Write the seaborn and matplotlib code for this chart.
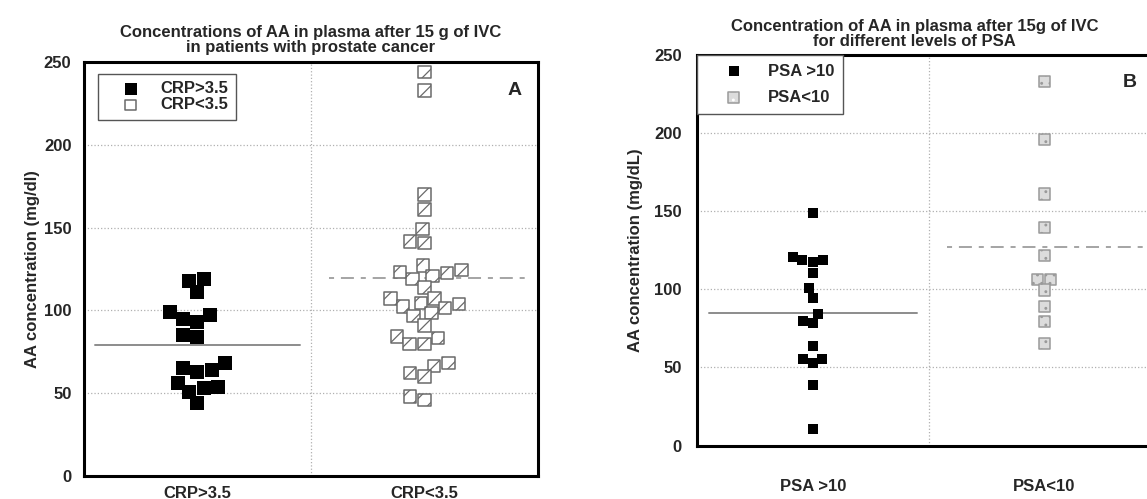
import numpy as np
import pandas as pd
import matplotlib
matplotlib.use('Agg')
import matplotlib.pyplot as plt
import seaborn as sns

# Panel A: AA in plasma by CRP level
crp_groups = ['CRP>3.5', 'CRP<3.5']
crp_high = [118, 119, 111, 97, 95, 99, 93, 85, 84, 68, 64, 63, 65, 54, 56, 51, 53, 44]
crp_low = [243.8, 232.8, 169.9, 160.8, 149.1, 140.7, 141.7, 127.2, 124.5, 122.5,
           118.9, 120.9, 123.3, 113.9, 107.2, 107.2, 103.8, 104.4, 101.4, 102.4,
           98.4, 96.7, 90.9, 84.2, 79.8, 79.8, 83.2, 66.5, 68.1, 60.0, 62.1, 48.0, 46.0]
crp_lines = [78.8, 119.5]

# Panel B: AA in plasma by PSA level
psa_groups = ['PSA >10', 'PSA<10']
psa_high = [148.7, 120.9, 118.8, 110.6, 117.7, 118.8, 100.6, 94.6, 84.0, 79.9,
            78.6, 63.7, 55.3, 52.6, 55.3, 38.7, 10.3]
psa_low = [233.1, 196.2, 161.1, 139.7, 121.5, 106.6, 106.6, 99.6, 88.9, 79.7, 65.4]
psa_lines = [85.0, 126.9]

y_ticks = [0, 50, 100, 150, 200, 250]

sns.set_style('white')
plt.rcParams['font.family'] = ['Liberation Sans', 'DejaVu Sans']
plt.rcParams['font.weight'] = 'bold'
plt.rcParams['hatch.color'] = '#7a7a7a'
plt.rcParams['hatch.linewidth'] = 0.9

TEXT = '#262626'
DASH = (0, (3.3, 4.5, 8.5, 4.5))


def draw_panel(ax, groups, high, low, lines, high_size, low_size, low_style):
    df = pd.DataFrame({
        'group': [groups[0]] * len(high) + [groups[1]] * len(low),
        'value': high + low,
    })
    sns.swarmplot(data=df[df['group'] == groups[0]], x='group', y='value', order=groups,
                  marker='s', size=high_size, color='black', linewidth=0, ax=ax)
    h_black = ax.collections[-1]
    sns.swarmplot(data=df[df['group'] == groups[1]], x='group', y='value', order=groups,
                  marker='s', size=low_size, color=low_style['face'],
                  edgecolor=low_style['edge'], linewidth=1.1, ax=ax)
    h_grey = ax.collections[-1]
    h_grey.set_hatch(low_style['hatch'])

    # group lines
    ax.plot([-0.45, 0.45], [lines[0]] * 2, color='#8c8c8c', lw=1.4, zorder=1)
    ax.plot([0.58, 1.46], [lines[1]] * 2, color='#8c8c8c', lw=1.1, ls=DASH, zorder=1)

    ax.set_xlim(-0.5, 1.5)
    ax.set_ylim(0, 250)
    ax.set_yticks(y_ticks)
    ax.grid(axis='y', color='#b0b0b0', ls=':', lw=0.9)
    ax.grid(axis='x', visible=False)
    ax.axvline(0.5, color='#b0b0b0', ls=':', lw=0.9, zorder=0)
    for s in ax.spines.values():
        s.set_linewidth(2.2)
        s.set_color('black')
    ax.set_xlabel('')
    return h_black, h_grey


fig = plt.figure(figsize=(11.47, 4.99), dpi=100)
axA = fig.add_axes([0.0732, 0.0461, 0.3958, 0.8297])
axB = fig.add_axes([0.6077, 0.1072, 0.4037, 0.7820])

# Panel A
hA1, hA2 = draw_panel(axA, crp_groups, crp_high, crp_low, crp_lines, 10, 9,
                      {'face': 'white', 'edge': '#6a6a6a', 'hatch': '//'})
axA.set_title('Concentrations of AA in plasma after 15 g of IVC\nin patients with prostate cancer',
              fontsize=12, fontweight='bold', color=TEXT, pad=7, linespacing=1.0)
axA.set_ylabel('AA concentration (mg/dl)', fontsize=12, fontweight='bold', color=TEXT, labelpad=3)
axA.tick_params(axis='y', length=0, pad=9, labelsize=12, labelcolor=TEXT)
axA.tick_params(axis='x', length=0, pad=7, labelsize=12, labelcolor=TEXT)
axA.legend([hA1, hA2], crp_groups, loc='upper left', bbox_to_anchor=(0.031, 0.971),
           borderaxespad=0, fontsize=12, frameon=True, fancybox=False,
           edgecolor='#555555', framealpha=1, labelspacing=0.05, handletextpad=0.3,
           markerscale=0.85, borderpad=0.45, handlelength=3.0)
axA.text(0.965, 0.93, 'A', transform=axA.transAxes, ha='right', va='center',
         fontsize=14, fontweight='bold', color=TEXT)

# Panel B
hB1, hB2 = draw_panel(axB, psa_groups, psa_high, psa_low, psa_lines, 7.2, 8,
                      {'face': '#dcdcdc', 'edge': '#9a9a9a', 'hatch': '..'})
axB.set_title('Concentration of AA in plasma after 15g of IVC\nfor different levels of PSA',
              fontsize=12, fontweight='bold', color=TEXT, pad=7, linespacing=1.0, x=0.47)
axB.set_ylabel('AA concentration (mg/dL)', fontsize=12, fontweight='bold', color=TEXT, labelpad=8)
axB.tick_params(axis='y', length=0, pad=11, labelsize=12, labelcolor=TEXT)
axB.tick_params(axis='x', length=0, pad=24, labelsize=12, labelcolor=TEXT)
axB.legend([hB1, hB2], psa_groups, loc='upper left', bbox_to_anchor=(0.0, 1.0),
           borderaxespad=0, fontsize=12, frameon=True, fancybox=False,
           edgecolor='#555555', framealpha=1, labelspacing=0.7, handletextpad=0.35,
           markerscale=1.0, borderpad=0.5, handlelength=3.4)
axB.text(0.935, 0.93, 'B', transform=axB.transAxes, ha='center', va='center',
         fontsize=14, fontweight='bold', color=TEXT)

fig.savefig('out.png', dpi=100)
